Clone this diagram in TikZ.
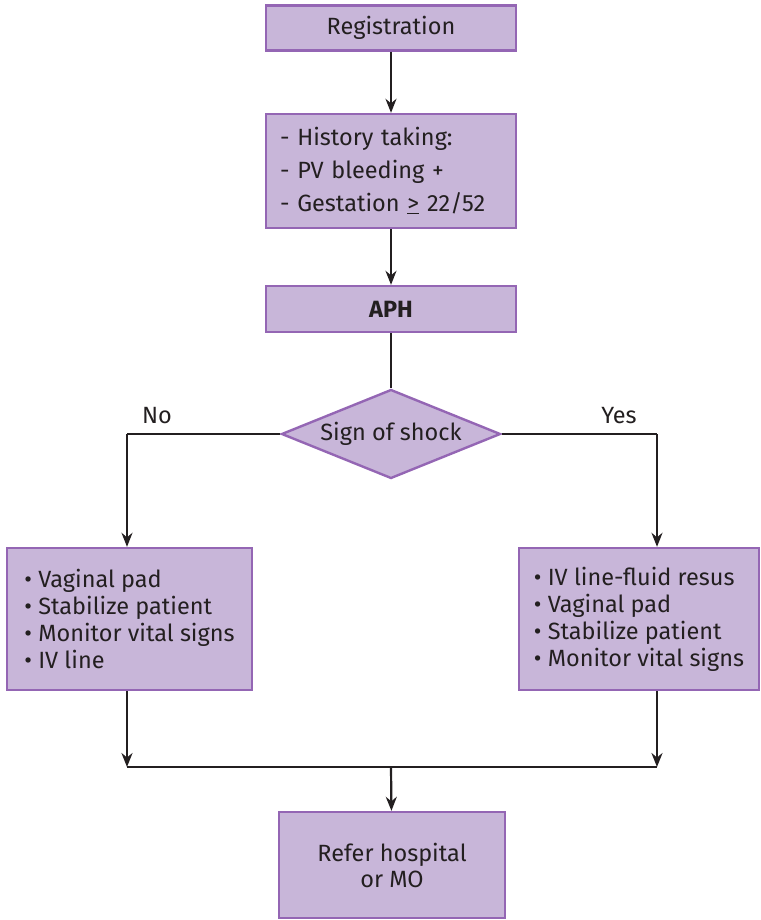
\documentclass[tikz,border=0pt]{standalone}
\usepackage{fontspec}
\setmainfont{Fira Sans}
\usetikzlibrary{shapes.geometric,arrows.meta}
\definecolor{boxfill}{HTML}{C8B6D9}
\definecolor{boxline}{HTML}{9466B4}
\definecolor{ink}{HTML}{231F20}

\begin{document}
\begin{tikzpicture}[x=1pt,y=-1pt,
        every node/.style={font=\fontsize{23.5}{27}\selectfont, text=ink},
        box/.style={draw=boxline, fill=boxfill, line width=2.4pt, inner sep=0pt},
        flow/.style={draw=ink, line width=2.2pt, -{Stealth[length=14pt,width=11pt]}},
        link/.style={draw=ink, line width=2.2pt}]
        \useasboundingbox (0,0) rectangle (760,920);
        \node[box, minimum width=250pt, minimum height=45pt] (reg) at (391,28) {Registration};
        \node[box, minimum width=250pt, minimum height=114pt, text width=222pt, align=left,
            font=\fontsize{23.5}{33}\selectfont] (hist) at (391,171)
            {- History taking:\\- PV bleeding +\\- Gestation \underline{>} 22/52};
        \node[box, minimum width=250pt, minimum height=46pt, font=\fontsize{23.5}{27}\selectfont\bfseries] (aph) at (391,309) {APH};
        \node[box, diamond, aspect=2.5, minimum width=219pt, minimum height=89pt] (shock) at (391,434) {Sign of shock};
        \node (no) at (157,416) {No};
        \node (yes) at (619,416) {Yes};
        \node[box, minimum width=245pt, minimum height=142pt, align=left] (left) at (129.5,619)
            {• Vaginal pad\\• Stabilize patient\\• Monitor vital signs\\• IV line};
        \node[box, minimum width=240pt, minimum height=142pt, align=left] (right) at (639,619)
            {• IV line-fluid resus\\• Vaginal pad\\• Stabilize patient\\• Monitor vital signs};
        \node[box, minimum width=226pt, minimum height=106pt, align=center,
            font=\fontsize{23.5}{26}\selectfont] (refer) at (392,865) {Refer hospital\\or MO};
        \coordinate (noturn) at (127,434);
        \coordinate (yesturn) at (657,434);
        \coordinate (joinL) at (127,767);
        \coordinate (joinR) at (657,767);
        \coordinate (join) at (391,767);
        \draw[flow] (reg) -- (hist);
        \draw[flow] (hist) -- (aph);
        \draw[link] (aph) -- (shock);
        \draw[link] (shock.west) -- (noturn);
        \draw[flow] (noturn) -- (noturn |- left.north);
        \draw[link] (shock.east) -- (yesturn);
        \draw[flow] (yesturn) -- (yesturn |- right.north);
        \draw[flow] (noturn |- left.south) -- (joinL);
        \draw[flow] (yesturn |- right.south) -- (joinR);
        \draw[link] (joinL) -- (joinR);
        \draw[flow] (join) -- (refer);
    \end{tikzpicture}
\end{document}
